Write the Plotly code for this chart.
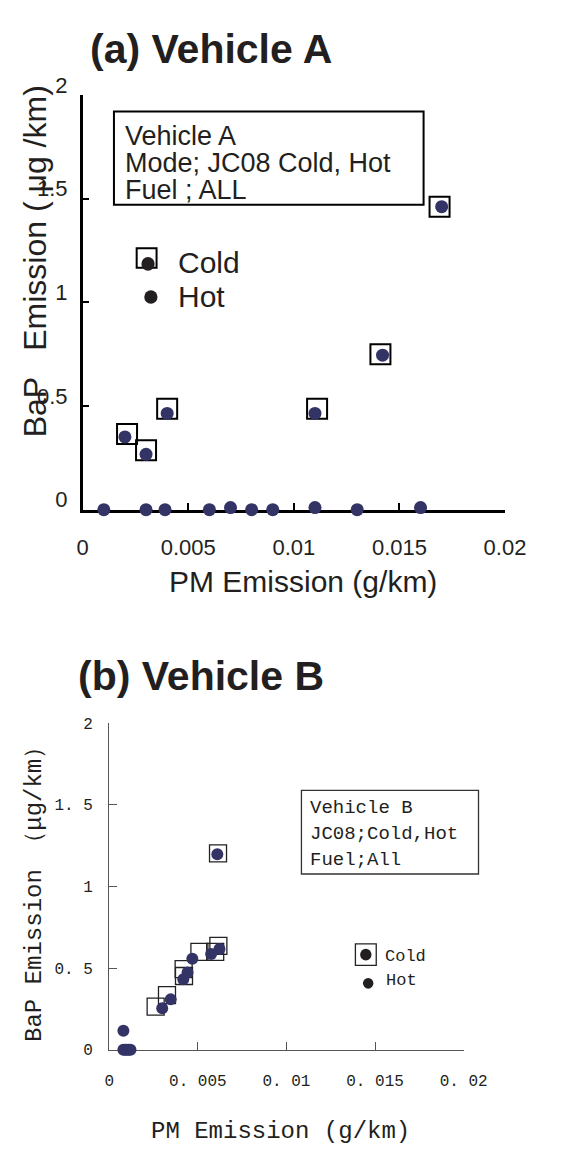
import plotly.graph_objects as go

W, H = 565, 1158

# ---------------- data ----------------
# Panel (a) Vehicle A
a_cold_x = [0.0021, 0.0030, 0.0040, 0.0111, 0.0141, 0.0169]
a_cold_y = [0.365, 0.286, 0.487, 0.487, 0.749, 1.461]
a_cold_dot_x = [0.0020, 0.0030, 0.0040, 0.0110, 0.0142, 0.0170]
a_cold_dot_y = [0.351, 0.267, 0.464, 0.464, 0.745, 1.461]
a_hot_x = [0.0010, 0.0030, 0.0039, 0.0060, 0.0070, 0.0080, 0.0090, 0.0110, 0.0130, 0.0160]
a_hot_y = [0.0, 0.0, 0.0, 0.0, 0.01, 0.0, 0.0, 0.01, 0.0, 0.01]

# Panel (b) Vehicle B
b_cold_x = [0.00614, 0.00616, 0.00598, 0.00509, 0.00420, 0.00422, 0.00326, 0.00262]
b_cold_y = [1.203, 0.636, 0.600, 0.600, 0.494, 0.452, 0.335, 0.265]
b_hot_x = [0.00610, 0.00622, 0.00575, 0.00469, 0.00442, 0.00418, 0.00347, 0.00299,
           0.0008, 0.0008, 0.0009, 0.0010, 0.0011, 0.0012]
b_hot_y = [1.197, 0.617, 0.587, 0.557, 0.474, 0.432, 0.309, 0.254,
           0.117, 0.0, 0.0, 0.0, 0.0, 0.0]

x_ticks = [0, 0.005, 0.01, 0.015, 0.02]
y_ticks = [0, 0.5, 1, 1.5, 2]
a_x_labels = ["0", "0.005", "0.01", "0.015", "0.02"]
a_y_labels = ["0", "0.5", "1", "1.5", "2"]
b_x_labels = ["0", "0. 005", "0. 01", "0. 015", "0. 02"]
b_y_labels = ["0", "0. 5", "1", "1. 5", "2"]

NAVY = "#333366"
INK = "#231f20"
SANS = "Liberation Sans, Arial, sans-serif"
MONO = "Liberation Mono, DejaVu Sans Mono, monospace"


def X(px):
    return px / W


def Y(py):
    return 1 - py / H


fig = go.Figure()

# ---- panel A traces ----
fig.add_trace(go.Scatter(x=a_cold_x, y=a_cold_y, mode="markers", xaxis="x", yaxis="y",
                         marker=dict(symbol="square-open", size=20, color="black",
                                     line=dict(width=2, color="black")),
                         cliponaxis=False, name="Cold"))
fig.add_trace(go.Scatter(x=a_cold_dot_x, y=a_cold_dot_y, mode="markers", xaxis="x", yaxis="y",
                         marker=dict(symbol="circle", size=13, color=NAVY),
                         cliponaxis=False, name="Cold"))
fig.add_trace(go.Scatter(x=a_hot_x, y=a_hot_y, mode="markers", xaxis="x", yaxis="y",
                         marker=dict(symbol="circle", size=13, color=NAVY),
                         cliponaxis=False, name="Hot"))

# ---- panel B traces ----
fig.add_trace(go.Scatter(x=b_cold_x, y=b_cold_y, mode="markers", xaxis="x2", yaxis="y2",
                         marker=dict(symbol="square-open", size=17, color="#222",
                                     line=dict(width=1.3, color="#222")),
                         cliponaxis=False, name="Cold"))
fig.add_trace(go.Scatter(x=b_hot_x, y=b_hot_y, mode="markers", xaxis="x2", yaxis="y2",
                         marker=dict(symbol="circle", size=12, color=NAVY),
                         cliponaxis=False, name="Hot"))

axA = dict(showline=True, linecolor="black", linewidth=2.5, showgrid=False, zeroline=False,
           ticks="inside", ticklen=7, tickwidth=2, tickcolor="black", layer="below traces")
axB = dict(showline=True, linecolor="#555", linewidth=1.3, showgrid=False, zeroline=False,
           ticks="inside", ticklen=8, tickwidth=1.3, tickcolor="#555", layer="below traces")

fig.update_layout(
    width=W, height=H, margin=dict(l=0, r=0, t=0, b=0),
    paper_bgcolor="white", plot_bgcolor="white", showlegend=False,
    xaxis=dict(axA, domain=[X(81), X(527)], range=[0, 0.02], anchor="y",
               tickvals=x_ticks, ticktext=a_x_labels,
               tickfont=dict(family=SANS, size=22, color=INK), ticklabelstandoff=16),
    yaxis=dict(axA, domain=[Y(502), Y(75)], range=[0, 2], anchor="x",
               tickvals=y_ticks, ticktext=a_y_labels,
               tickfont=dict(family=SANS, size=22, color=INK), ticklabelstandoff=8,
               ticklabelshift=-10),
    xaxis2=dict(axB, domain=[X(109), X(483.3)], range=[0, 0.02], anchor="y2",
                tickvals=x_ticks, ticktext=b_x_labels,
                tickfont=dict(family=MONO, size=16, color=INK), ticklabelstandoff=16),
    yaxis2=dict(axB, domain=[Y(1058), Y(721.7)], range=[0, 2], anchor="x2",
                tickvals=y_ticks, ticktext=b_y_labels,
                tickfont=dict(family=MONO, size=16, color=INK), ticklabelstandoff=12),
)

ann = []


def text(px, py, s, font, xanchor="left", angle=0):
    ann.append(dict(x=X(px), y=Y(py), xref="paper", yref="paper", text=s, showarrow=False,
                    xanchor=xanchor, yanchor="middle", font=font, textangle=angle))


# titles
text(217, 28, "<b>(a) Vehicle A</b>", dict(family=SANS, size=41, color=INK), "center")
text(206, 673, "<b>(b) Vehicle B</b>", dict(family=SANS, size=41, color=INK), "center")

# axis titles A
text(314, 576, "PM Emission (g/km)", dict(family=SANS, size=30, color=INK), "center")
text(31, 246, "BaP   Emission ( μg /km)", dict(family=SANS, size=32, color=INK), "center", -90)

# axis titles B
text(290, 1142, "PM Emission (g/km)", dict(family=MONO, size=24, color=INK), "center")
text(30, 892, "BaP Emission （μg/km）", dict(family=MONO, size=24, color=INK), "center", -90)

# info box A
for py, s in [(117, "Vehicle A"), (145, "Mode; JC08 Cold, Hot"), (173, "Fuel ; ALL")]:
    text(124, py, s, dict(family=SANS, size=27, color=INK))
# legend A
text(180, 248, "Cold", dict(family=SANS, size=30, color=INK))
text(180, 283, "Hot", dict(family=SANS, size=30, color=INK))

# info box B
for py, s in [(809, "Vehicle B"), (836, "JC08;Cold,Hot"), (863, "Fuel;All")]:
    text(319, py, s, dict(family=MONO, size=19, color=INK))
# legend B
text(398, 962, "Cold", dict(family=MONO, size=17, color=INK))
text(399, 987, "Hot", dict(family=MONO, size=17, color=INK))

fig.update_layout(annotations=ann)

shapes = [
    # box A
    dict(type="rect", xref="paper", yref="paper", x0=X(114), x1=X(441), y0=Y(188), y1=Y(92),
         line=dict(color="black", width=2)),
    # legend A symbols
    dict(type="rect", xref="paper", yref="paper", x0=X(138), x1=X(159), y0=Y(253), y1=Y(233),
         line=dict(color="black", width=2)),
    dict(type="circle", xref="paper", yref="paper", x0=X(143), x1=X(157), y0=Y(256), y1=Y(242),
         fillcolor=INK, line=dict(width=0)),
    dict(type="circle", xref="paper", yref="paper", x0=X(146), x1=X(160), y0=Y(290), y1=Y(276),
         fillcolor=INK, line=dict(width=0)),
    # box B
    dict(type="rect", xref="paper", yref="paper", x0=X(312), x1=X(499), y0=Y(877), y1=Y(791),
         line=dict(color="#333", width=1.3)),
    # legend B symbols
    dict(type="rect", xref="paper", yref="paper", x0=X(369), x1=X(391), y0=Y(971), y1=Y(949),
         line=dict(color="#222", width=1.3)),
    dict(type="circle", xref="paper", yref="paper", x0=X(374), x1=X(386), y0=Y(966), y1=Y(954),
         fillcolor=INK, line=dict(width=0)),
    dict(type="circle", xref="paper", yref="paper", x0=X(377), x1=X(388), y0=Y(995), y1=Y(984),
         fillcolor=INK, line=dict(width=0)),
]
fig.update_layout(shapes=shapes)

fig.write_html("out.html")
